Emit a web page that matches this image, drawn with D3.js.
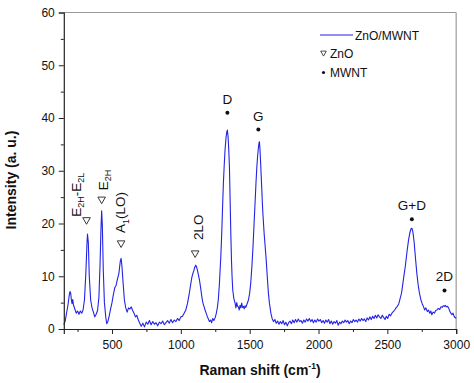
<!DOCTYPE html>
<html><head><meta charset="utf-8">
<script src="https://cdn.jsdelivr.net/npm/d3@7/dist/d3.min.js"></script>
<style>
html,body{margin:0;padding:0;background:#fff;}
svg{display:block;font-family:"Liberation Sans",Arial,sans-serif;}
</style></head>
<body>
<svg id="chart" width="474" height="383"></svg>
<script>
// ---- data ----
const ramanShift = [150,160,170,180,190,195,200,205,210,215,220,230,240,250,260,270,280,290,300,310,318,322,328,335,345,355,365,375,385,395,405,413,420,425,430,437,445,455,462,470,480,490,500,510,520,530,540,550,560,566,572,580,590,600,610,620,630,640,650,660,670,680,690,
700,712,724,736,748,760,772,784,796,808,820,832,844,856,868,880,892,904,916,928,940,952,964,976,988,1000,1012,1024,1036,1048,1060,1070,1080,1088,1094,1100,1108,1114,1120,1128,1136,1144,1152,1160,1168,1176,1184,1192,1200,1208,1216,1224,1232,1240,1250,1258,1266,1272,1280,1290,1297,1303,1309,1315,1321,1328,1334,1338,1343,1348,1353,1358,1363,1368,1372,1377,1385,1394,1400,1406,1412,1418,1424,1430,1436,1442,1448,1454,1460,1466,1472,1480,1491,1500,1508,1516,1524,1532,1540,1546,1552,1558,1564,1568,1571,1575,1579,1583,1588,1592,1596,1601,1605,1610,1615,1620,1628,1636,1644,1654,1663,1673,1683,1693,1703,1713,1723,1733,1743,1753,1763,1773,1783,1793,1803,1813,1823,1833,1843,1853,1863,1873,1883,1893,1903,1913,1923,1933,1943,1953,1963,1973,1983,1993,2003,2013,2023,2033,2043,2053,2063,2073,2083,2093,2103,2113,2123,2133,2143,2153,2163,2173,2183,2193,2203,2213,2223,2233,2243,2253,2263,2273,2283,2293,2303,2313,2323,2333,2343,2353,2363,2373,2383,2393,2403,2413,2423,2433,2443,2453,2463,2473,2483,2493,2503,2513,2523,2533,2543,2553,2563,2573,2583,2593,2603,2612,2621,2630,2642,2654,2664,2672,2678,2684,2690,2695,2704,2714,2723,2733,2743,2753,2763,2771,2780,2790,2799,2808,2816,2823,2832,2842,2851,2860,2870,2880,2890,2898,2906,2914,2920,2928,2936,2945,2953,2961,2969,2977,2985,2993,3000];
const intensity = [0.8,1.5,3.0,4.5,6.5,7.1,6.8,5.5,4.8,5.6,4.6,3.8,3.0,3.4,2.8,3.4,3.0,3.6,5.5,10.5,16.0,18.0,16.5,10.0,5.5,4.0,3.2,2.3,2.8,3.5,6.0,12.0,19.0,22.4,19.5,11.0,5.0,2.2,1.0,1.4,2.5,3.8,5.0,6.5,7.8,8.3,9.5,10.5,12.8,13.4,12.0,9.0,5.5,4.0,3.2,4.0,3.8,4.2,3.5,3.0,2.3,2.6,1.8,
1.2,0.5,1.1,0.4,1.3,0.9,1.6,0.8,1.4,0.9,1.2,0.6,1.3,1.0,1.5,0.8,1.2,1.6,1.1,1.8,1.2,1.7,1.4,2.0,1.6,2.3,2.4,3.0,3.6,4.8,6.5,8.2,9.8,10.6,11.0,11.6,12.1,11.8,11.2,10.2,9.2,7.8,6.2,5.0,4.3,3.6,3.0,2.4,1.9,1.4,1.7,1.2,2.0,1.6,2.2,3.0,4.2,5.5,8.5,13.5,18.1,23.0,27.6,31.0,33.9,36.2,37.4,37.7,36.5,34.0,30.7,24.5,18.1,13.0,10.0,7.4,5.8,4.9,4.0,5.0,4.3,4.2,3.6,4.5,4.0,4.9,4.1,4.3,3.8,4.4,4.1,4.7,5.5,6.8,8.8,11.8,15.5,20.0,24.4,27.8,30.7,32.9,34.5,35.3,35.5,34.0,31.8,29.5,26.5,24.0,21.9,19.8,18.1,16.5,14.8,13.1,9.8,6.8,4.8,3.0,2.0,1.4,1.8,1.1,1.5,0.9,1.4,1.0,1.6,0.8,1.3,0.6,1.2,1.5,1.0,1.7,1.2,1.8,1.3,1.9,1.4,1.6,1.1,1.7,1.3,1.9,1.5,2.0,1.4,1.8,1.2,1.7,1.3,1.9,1.5,1.8,1.2,1.6,1.1,1.7,1.3,1.8,1.0,1.5,0.9,1.4,1.1,1.6,0.7,1.3,1.0,1.5,1.2,1.7,1.3,1.6,1.0,1.5,1.2,1.8,1.4,1.7,1.3,1.9,1.5,2.0,1.6,1.9,1.4,2.1,1.7,2.3,1.8,2.4,2.0,2.6,2.1,2.7,2.3,2.0,2.6,2.2,1.8,2.4,2.0,2.8,2.5,3.0,3.3,3.6,4.0,4.3,4.8,5.8,6.8,8.5,10.2,11.8,14.5,16.9,18.3,19.0,19.1,18.6,17.5,16.3,13.5,10.6,8.5,6.8,5.6,4.8,4.2,3.6,4.0,3.3,3.6,3.0,3.4,2.7,3.2,3.0,3.5,3.6,3.9,3.7,4.2,4.1,4.4,4.3,4.5,4.2,4.3,4.0,3.4,3.0,2.7,3.0,2.4,2.1,2.2];

const xTicks = [500,1000,1500,2000,2500,3000];
const xMinorTicks = [250,750,1250,1750,2250,2750];
const yTicks = [0,10,20,30,40,50,60];
const yMinorTicks = [5,15,25,35,45,55];

// ZnO markers (open down-triangles) and MWNT markers (dots)
const znoShift = [315,425,566,1104];
const znoIntensity = [20.5,24.4,16.1,14.2];
const znoLabels = [["E","2H","-E","2L"],["E","2H"],["A","1","(LO)"],["2LO"]];
const mwntShift = [1338,1563,2678,2915];
const mwntIntensity = [41.0,37.8,20.8,7.3];
const mwntLabels = ["D","G","G+D","2D"];

// ---- layout ----
const W = 474, H = 383;
const margin = {left:63.8, right:474-456.2, top:12.5, bottom:383-329};
const svg = d3.select("#chart");
const x = d3.scaleLinear().domain([150,3000]).range([margin.left, W-margin.right]);
const y = d3.scaleLinear().domain([0,60]).range([H-margin.bottom, margin.top]);
const lineColor = "#2323e6";
const axisColor = "#222";

// frame (top/right light)
svg.append("line").attr("x1",x(150)).attr("x2",x(3000)).attr("y1",y(60)).attr("y2",y(60))
  .attr("stroke","#9a9a9a").attr("stroke-width",1);
svg.append("line").attr("x1",x(3000)).attr("x2",x(3000)).attr("y1",y(60)).attr("y2",y(0))
  .attr("stroke","#b0b0b0").attr("stroke-width",1.5);

// spectrum
const pts = ramanShift.map((d,i)=>[d,intensity[i]]);
svg.append("path").datum(pts)
  .attr("fill","none").attr("stroke",lineColor).attr("stroke-width",1.1)
  .attr("stroke-linejoin","round")
  .attr("d", d3.line().x(d=>x(d[0])).y(d=>y(d[1])));

// axes
function styleAxis(g){
  g.select(".domain").attr("stroke",axisColor).attr("stroke-width",1.2);
  g.selectAll(".tick line").attr("stroke",axisColor).attr("stroke-width",1);
  g.selectAll(".tick text").attr("fill","#111").style("font-size","12px")
    .style("font-family","'Liberation Sans',Arial,sans-serif");
}
const gx = svg.append("g").attr("transform",`translate(0,${y(0)})`)
  .call(d3.axisBottom(x).tickValues(xTicks).tickSize(5).tickPadding(6).tickFormat(d3.format("d")));
styleAxis(gx);
const gxm = svg.append("g").attr("transform",`translate(0,${y(0)})`)
  .call(d3.axisBottom(x).tickValues(xMinorTicks).tickSize(3).tickFormat(""));
styleAxis(gxm); gxm.select(".domain").remove();

const gy = svg.append("g").attr("transform",`translate(${x(150)},0)`)
  .call(d3.axisLeft(y).tickValues(yTicks).tickSize(5).tickPadding(4));
styleAxis(gy);
const gym = svg.append("g").attr("transform",`translate(${x(150)},0)`)
  .call(d3.axisLeft(y).tickValues(yMinorTicks).tickSize(3).tickFormat(""));
styleAxis(gym); gym.select(".domain").remove();

// axis titles
const xt = svg.append("text").attr("x",(x(150)+x(3000))/2).attr("y",375)
  .attr("text-anchor","middle").style("font-size","14px").style("font-weight","bold").attr("fill","#111");
xt.append("tspan").text("Raman shift (cm");
xt.append("tspan").attr("dy",-6).style("font-size","8.5px").text("-1");
xt.append("tspan").attr("dy",6).text(")");

svg.append("text").attr("transform","translate(16,180) rotate(-90)")
  .attr("text-anchor","middle").style("font-size","14px").style("font-weight","bold").attr("fill","#111")
  .text("Intensity (a. u.)");

// markers
const triPath = "M-3.8,-3.2 L3.8,-3.2 L0,3.4 Z";
const znoLabelOffset = [[-6,-4],[6,-10],[4,-11],[8,-14]];
znoShift.forEach((s,i)=>{
  const mx = x(s), my = y(znoIntensity[i]);
  svg.append("path").attr("d",triPath).attr("transform",`translate(${mx},${my})`)
    .attr("fill","none").attr("stroke","#222").attr("stroke-width",0.9);
  const t = svg.append("text")
    .attr("transform",`translate(${mx+znoLabelOffset[i][0]},${my+znoLabelOffset[i][1]}) rotate(-90)`)
    .style("font-size","13.5px").attr("fill","#111");
  const parts = znoLabels[i];
  parts.forEach((p,j)=>{
    const isSub = (i===0 && (j===1||j===3)) || (i===1 && j===1) || (i===2 && j===1);
    const sp = t.append("tspan").text(p);
    if(isSub){ sp.attr("dy",3.5).style("font-size","9px"); }
    else if(j>0){ sp.attr("dy",-3.5); }
  });
});

const mwntLabelGap = 9;
mwntShift.forEach((s,i)=>{
  const mx = x(s), my = y(mwntIntensity[i]);
  svg.append("circle").attr("cx",mx).attr("cy",my).attr("r",2).attr("fill","#111");
  svg.append("text").attr("x",mx).attr("y",my-mwntLabelGap)
    .attr("text-anchor","middle").style("font-size","13.5px").attr("fill","#111").text(mwntLabels[i]);
});

// legend
const lg = svg.append("g");
lg.append("line").attr("x1",320).attr("x2",353).attr("y1",35).attr("y2",35)
  .attr("stroke",lineColor).attr("stroke-width",1.2);
lg.append("text").attr("x",355).attr("y",40).style("font-size","12px").attr("fill","#111").text("ZnO/MWNT");
lg.append("path").attr("d","M-2.8,-2.4 L2.8,-2.4 L0,2.6 Z").attr("transform","translate(323.5,53.5)")
  .attr("fill","none").attr("stroke","#222").attr("stroke-width",0.8);
lg.append("text").attr("x",330).attr("y",57.5).style("font-size","12px").attr("fill","#111").text("ZnO");
lg.append("circle").attr("cx",323.5).attr("cy",72.5).attr("r",1.6).attr("fill","#111");
lg.append("text").attr("x",330).attr("y",76.5).style("font-size","12px").attr("fill","#111").text("MWNT");
</script>
</body></html>
